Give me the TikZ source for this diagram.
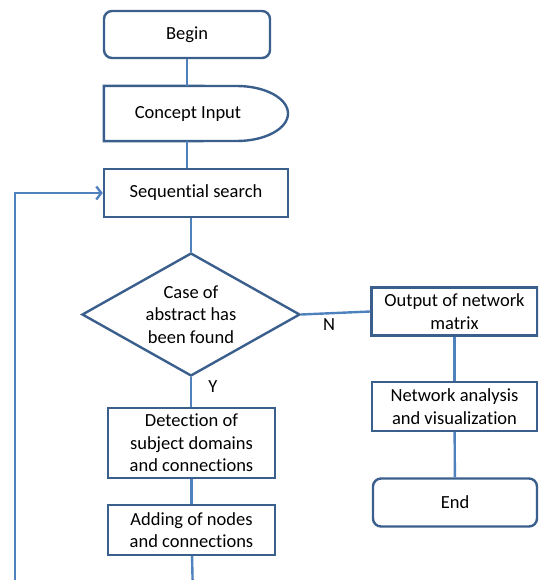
\documentclass[tikz,border=0pt]{standalone}
\usepackage{fontspec}
\setmainfont{Carlito}[Ligatures=NoCommon]
\usetikzlibrary{shapes.geometric, arrows.meta}
\definecolor{boxline}{HTML}{3A5F8C}
\definecolor{linkline}{HTML}{4F81BD}
\begin{document}
\begin{tikzpicture}[x=1pt, y=-1pt,
    every node/.style={align=center, font=\fontsize{18.5}{22.5}\selectfont, inner sep=0pt},
    procbox/.style={draw=boxline, line width=2.4pt, rectangle},
    termbox/.style={procbox, rounded corners=8pt},
    testbox/.style={draw=boxline, line width=2.4pt, diamond, aspect=1.77, minimum width=218, minimum height=123},
    link/.style={draw=linkline, line width=2.4pt}]
    \useasboundingbox (0,0) rectangle (538,580);
    \clip (0,0) rectangle (538,580);
    % Nodes
    \node (begin) [termbox, minimum width=166, minimum height=47] at (187,34.5) {Begin};
    \node (input) [minimum width=184, minimum height=55] at (196,113.5) {};
    \draw [draw=boxline, line width=2.4pt, line join=miter] (input.south west) -- (input.north west) -- (237,86) arc[start angle=-90, end angle=90, x radius=51, y radius=27.5] -- cycle;
    \node (inputtext) at (188,113.5) {Concept Input};
    \node (search) [procbox, minimum width=184, minimum height=48] at (196,193) {Sequential search};
    \node (decision) [testbox] at (191,314.5) {Case of\\abstract has\\been found};
    \node (detect) [procbox, minimum width=167, minimum height=70] at (191.5,443) {Detection of\\subject domains\\and connections};
    \node (adding) [procbox, minimum width=167, minimum height=50] at (191.5,530) {Adding of nodes\\and connections};
    \node (output) [procbox, minimum width=166, minimum height=48] at (454.5,311.5) {Output of network\\matrix};
    \node (analysis) [procbox, minimum width=165, minimum height=49] at (454.5,406.5) {Network analysis\\and visualization};
    \node (end) [termbox, minimum width=164, minimum height=48] at (455,502.5) {End};
    \node (ylabel) at (213,387) {Y};
    \node (nlabel) at (329,325) {N};
    \coordinate (addout) at (193,600);
    \coordinate (loopstart) at (15,600);

    % Connectors
    \draw [link] (begin) -- (begin |- input.north);
    \draw [link] (begin |- input.south) -- (begin |- search.north);
    \draw [link] (decision.north) -- (decision.north |- search.south);
    \draw [link] (decision.south) -- (decision.south |- detect.north);
    \draw [link] (detect) -- (adding);
    \draw [link] (adding) -- (addout);
    \draw [link, -{Straight Barb[length=5pt, width=13pt]}] (loopstart) |- (search.west);
    \draw [link] (decision.east) -- (output.west);
    \draw [link] (output) -- (analysis);
    \draw [link] (analysis) -- (end);
\end{tikzpicture}
\end{document}
